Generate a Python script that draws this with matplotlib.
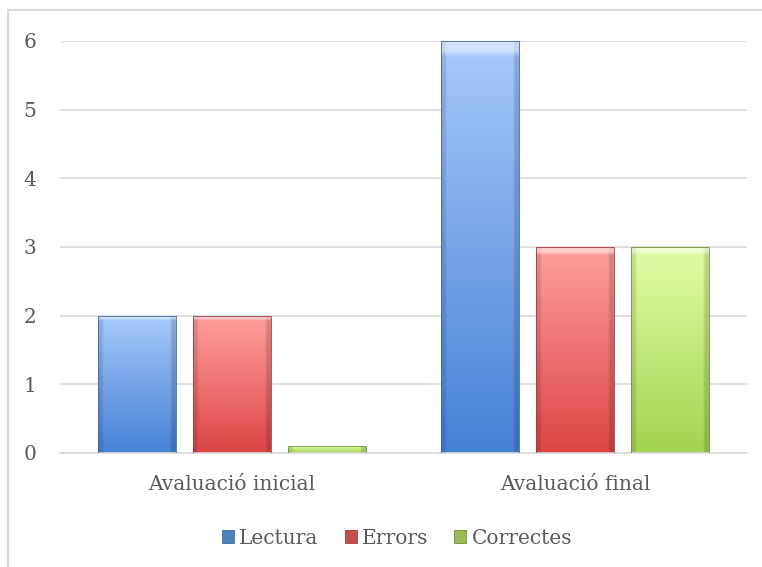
import numpy as np
import matplotlib
matplotlib.use("Agg")
import matplotlib.pyplot as plt
from matplotlib.patches import Patch
from matplotlib.lines import Line2D
from matplotlib.colors import to_rgb

categories = ["Avaluació inicial", "Avaluació final"]
series_names = ["Lectura", "Errors", "Correctes"]
lectura = [2, 6]
errors = [2, 3]
correctes = [0.1, 3]
yticks = [0, 1, 2, 3, 4, 5, 6]

series_values = [lectura, errors, correctes]
top_colors = ["#a6c9fb", "#ff9f9f", "#e2fca4"]
bot_colors = ["#4682d6", "#dd4545", "#a2d452"]
edge_colors = ["#3a6aa8", "#a83a3a", "#6f8f3a"]
legend_colors = ["#4f81bd", "#c0504d", "#9bbb59"]

plt.rcParams["font.family"] = ["DejaVu Serif"]
text_color = "#595959"

fig = plt.figure(figsize=(7.62, 5.67), dpi=100)
ax = fig.add_axes([60/762, 1-453/567, (747-60)/762, (453-41)/567])

x = np.arange(len(categories))
width = 0.227
step = 0.2766

def gradient_img(top, bot, n=64, m=32):
    t = np.linspace(0, 1, n)[:, None, None]
    top = np.array(to_rgb(top))[None, None, :]
    bot = np.array(to_rgb(bot))[None, None, :]
    img = top * (1 - t) + bot * t
    img = np.repeat(img, m, axis=1)
    xs = np.linspace(0, 1, m)
    shade = np.ones(m)
    shade[xs < 0.05] = 0.88
    shade[xs > 0.95] = 0.85
    img = img * shade[None, :, None]
    img[:2, :, :] = img[:2, :, :] * 0.5 + 0.5
    return np.clip(img, 0, 1)

for i, (vals, tc, bc, ec) in enumerate(zip(series_values, top_colors, bot_colors, edge_colors)):
    bars = ax.bar(x + (i - 1) * step, vals, width, color="none", edgecolor=ec, linewidth=0.6, zorder=3)
    for r in bars:
        x0, y0, w, h = r.get_x(), r.get_y(), r.get_width(), r.get_height()
        im = ax.imshow(gradient_img(tc, bc), extent=[x0, x0 + w, y0, y0 + h],
                       aspect="auto", origin="upper", zorder=2, interpolation="bilinear")
        im.set_clip_path(r)

ax.set_xlim(-0.5, 1.5)
ax.set_ylim(0, 6)
ax.set_yticks(yticks)
ax.set_xticks(x)
ax.set_xticklabels(categories)
ax.yaxis.grid(True, color="#d9d9d9", linewidth=1.2, zorder=0)
ax.set_axisbelow(True)
for s in ["left", "right", "top"]:
    ax.spines[s].set_visible(False)
ax.spines["bottom"].set_color("#d9d9d9")
ax.spines["bottom"].set_linewidth(1.2)
ax.tick_params(axis="both", length=0, labelsize=14.5, colors=text_color)
ax.tick_params(axis="y", pad=17)
ax.tick_params(axis="x", pad=16)

handles = [Patch(facecolor=c, edgecolor=ec, linewidth=0.6) for c, ec in zip(legend_colors, edge_colors)]
leg = fig.legend(handles, series_names, loc="center", bbox_to_anchor=(397/762, 1-538/567),
                 ncol=3, frameon=False, fontsize=14.5, handlelength=0.6, handleheight=0.6,
                 handletextpad=0.25, columnspacing=1.3)
for t in leg.get_texts():
    t.set_color(text_color)

fig.add_artist(Line2D([8/762, 8/762], [0, 1-10/567], transform=fig.transFigure, color="#d9d9d9", linewidth=1.5))
fig.add_artist(Line2D([8/762, 1], [1-10/567, 1-10/567], transform=fig.transFigure, color="#d9d9d9", linewidth=1.5))

fig.savefig("out.png", dpi=100, facecolor="white")
